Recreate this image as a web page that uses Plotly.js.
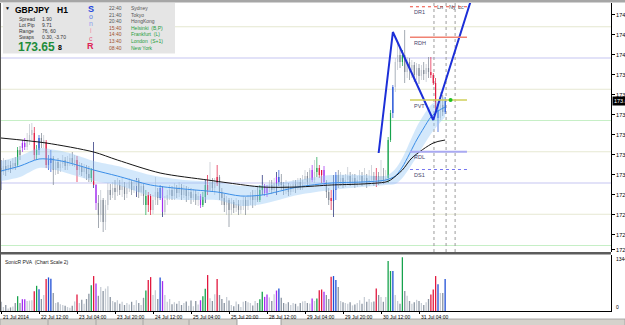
<!DOCTYPE html>
<html><head><meta charset="utf-8">
<script src="https://cdn.plot.ly/plotly-3.0.1.min.js"></script>
<style>html,body{margin:0;padding:0;background:#fff;}#chart{width:625px;height:325px;}</style>
</head><body><div id="chart"></div>
<script>
// ---------- DATA (GBPJPY H1) ----------
const timeTickIdx = [0,16,32,48,64,80,96,112,128,144,160,176];
const timeTickLabels = ['21 Jul 2014','22 Jul 12:00','23 Jul 04:00','23 Jul 20:00','24 Jul 12:00','25 Jul 04:00','25 Jul 20:00','28 Jul 12:00','29 Jul 04:00','29 Jul 20:00','30 Jul 12:00','31 Jul 04:00'];

const openP = [173.120,173.088,173.136,173.104,173.144,173.120,173.160,173.144,173.264,173.280,
173.320,173.288,173.344,173.384,173.400,173.224,173.264,173.360,173.320,173.328,
173.144,173.160,173.200,173.104,173.168,173.120,173.152,173.184,173.136,173.168,
173.200,173.160,173.184,173.104,173.136,173.088,173.120,173.072,173.040,173.104,
172.984,172.840,172.744,172.864,172.688,172.824,172.944,172.904,172.960,172.928,
172.984,172.944,172.976,172.912,172.960,173.008,172.944,172.976,173.024,172.928,
172.976,172.896,172.824,172.896,172.784,172.864,172.928,172.880,172.960,172.768,
172.864,172.904,172.944,172.896,172.960,172.920,172.968,172.904,172.944,172.896,
172.928,172.880,172.912,172.864,172.896,172.824,172.888,172.984,172.944,173.008,
172.960,173.000,173.048,172.928,172.880,172.824,172.864,172.784,172.848,172.800,
172.832,172.784,172.816,172.864,172.816,172.864,172.896,172.864,172.896,172.864,
172.944,172.976,172.920,172.960,172.984,172.944,173.000,173.048,173.008,172.984,
172.944,172.976,172.928,172.960,172.992,172.960,173.008,172.976,173.024,173.056,
173.008,173.104,173.024,173.088,173.120,173.064,173.104,173.008,172.928,172.880,
172.856,172.944,173.064,173.000,173.040,172.992,173.024,173.056,173.008,173.040,
172.992,173.024,173.056,173.008,173.040,173.000,173.024,173.056,173.024,173.056,
173.008,173.056,173.024,173.040,173.344,173.560,173.768,173.968,174.024,173.968,
174.024,173.888,173.968,173.904,173.944,173.864,173.920,173.856,173.904,173.872,
173.920,173.888,173.864,173.800,173.584,173.520,173.624,173.568];
const highP = [173.184,173.200,173.184,173.184,173.176,173.200,173.208,173.288,173.296,173.344,
173.360,173.400,173.472,173.480,173.448,173.304,173.384,173.400,173.384,173.344,
173.224,173.264,173.216,173.184,173.200,173.184,173.224,173.208,173.216,173.232,
173.248,173.224,173.216,173.168,173.160,173.152,173.144,173.136,173.120,173.328,
172.992,172.904,172.944,172.880,172.864,173.000,172.992,173.008,173.024,173.040,
173.024,173.040,173.008,173.000,173.040,173.024,173.024,173.040,173.040,173.008,
172.992,172.944,172.928,172.912,172.904,173.048,172.960,172.984,172.976,172.896,
172.944,172.984,172.976,173.000,172.984,173.008,172.992,172.984,172.976,172.968,
172.960,172.952,172.944,172.928,172.912,172.928,173.024,173.064,173.168,173.040,
173.040,173.144,173.064,172.960,172.912,172.896,172.880,172.880,172.864,172.880,
172.864,172.864,172.896,172.888,172.904,172.928,172.944,172.944,172.976,172.984,
173.064,172.992,172.984,173.024,173.024,173.040,173.088,173.104,173.072,173.008,
173.024,173.000,172.992,173.024,173.024,173.040,173.040,173.064,173.104,173.088,
173.120,173.144,173.184,173.208,173.144,173.104,173.136,173.024,172.960,172.944,
173.064,173.088,173.104,173.088,173.064,173.072,173.128,173.088,173.072,173.072,
173.056,173.104,173.088,173.120,173.072,173.104,173.144,173.088,173.120,173.088,
173.184,173.120,173.104,173.368,173.584,173.784,174.000,174.120,174.080,174.064,
174.224,174.008,174.000,173.984,173.968,173.960,173.952,173.944,173.968,173.952,
174.008,174.008,173.880,173.840,173.624,173.728,173.704,173.688];
const lowP = [172.944,173.064,173.056,173.088,173.080,173.104,173.104,173.128,173.184,173.248,
173.264,173.264,173.304,173.344,173.184,173.184,173.224,173.280,173.280,173.120,
173.104,173.088,172.984,173.064,173.072,173.088,173.120,173.104,173.104,173.136,
173.136,173.128,173.008,173.064,173.056,173.040,173.024,173.008,173.008,172.960,
172.784,172.640,172.688,172.608,172.624,172.784,172.864,172.880,172.864,172.896,
172.904,172.888,172.864,172.880,172.928,172.904,172.920,172.888,172.880,172.896,
172.824,172.744,172.768,172.744,172.752,172.824,172.824,172.864,172.728,172.744,
172.824,172.864,172.864,172.864,172.880,172.888,172.864,172.880,172.848,172.864,
172.832,172.848,172.824,172.816,172.800,172.808,172.840,172.904,172.928,172.928,
172.904,172.976,172.864,172.824,172.768,172.744,172.648,172.744,172.760,172.768,
172.744,172.752,172.784,172.744,172.784,172.824,172.800,172.816,172.848,172.848,
172.904,172.896,172.888,172.928,172.912,172.928,172.904,172.976,172.944,172.904,
172.912,172.896,172.904,172.928,172.920,172.944,172.944,172.944,172.984,172.976,
172.984,173.008,173.000,173.048,173.040,173.000,172.976,172.880,172.824,172.784,
172.728,172.864,172.960,172.976,172.960,172.968,172.984,172.976,172.984,172.960,
172.968,172.992,172.976,172.984,172.960,172.976,173.008,172.976,172.968,172.984,
172.992,172.992,173.000,173.000,173.328,173.520,173.728,173.904,173.920,173.936,
173.800,173.840,173.824,173.840,173.808,173.824,173.792,173.824,173.824,173.808,
173.840,173.840,173.784,173.568,173.408,173.504,173.536,173.552];
const closeP = [173.088,173.136,173.104,173.144,173.120,173.160,173.136,173.264,173.224,173.320,
173.288,173.344,173.384,173.424,173.224,173.264,173.360,173.320,173.344,173.144,
173.184,173.200,173.104,173.168,173.120,173.152,173.184,173.136,173.168,173.200,
173.160,173.184,173.104,173.136,173.088,173.120,173.072,173.040,173.104,172.984,
172.840,172.744,172.864,172.688,172.824,172.944,172.904,172.960,172.928,172.984,
172.944,172.976,172.912,172.960,173.008,172.944,172.976,173.024,172.928,172.976,
172.896,172.824,172.904,172.784,172.864,172.928,172.880,172.960,172.768,172.864,
172.904,172.944,172.896,172.960,172.920,172.968,172.904,172.944,172.896,172.928,
172.880,172.912,172.864,172.896,172.824,172.888,172.984,172.944,173.008,172.960,
173.000,173.048,172.928,172.880,172.824,172.864,172.784,172.848,172.800,172.832,
172.784,172.816,172.864,172.816,172.864,172.896,172.864,172.896,172.864,172.944,
172.976,172.920,172.960,172.984,172.944,173.000,173.048,173.008,172.984,172.944,
172.976,172.928,172.960,172.992,172.960,173.008,172.976,173.024,173.056,173.008,
173.104,173.024,173.088,173.120,173.064,173.104,173.008,172.928,172.864,172.856,
172.944,173.064,173.000,173.040,172.992,173.024,173.056,173.008,173.040,172.992,
173.024,173.056,173.008,173.040,173.000,173.024,173.056,173.024,173.056,173.008,
173.056,173.024,173.040,173.344,173.560,173.768,173.968,174.024,173.968,174.024,
173.888,173.968,173.904,173.944,173.864,173.920,173.856,173.904,173.872,173.920,
173.888,173.864,173.800,173.584,173.520,173.624,173.568,173.656];
const volume = [230,100,150,60,90,110,200,370,200,295,
295,250,260,270,495,630,546,300,400,798,
840,806,450,200,220,170,150,130,100,80,
130,240,412,200,280,180,300,430,647,874,
689,380,600,500,560,620,350,250,220,270,
180,230,150,200,160,230,150,270,200,150,
330,512,773,848,400,520,300,840,748,400,
230,300,170,220,180,250,150,200,240,130,
260,120,250,160,269,370,554,899,320,250,
420,798,400,300,200,350,260,150,120,240,
170,100,230,250,220,200,140,250,200,294,
479,353,412,340,250,420,512,563,330,200,
180,220,150,200,180,120,200,240,250,200,
190,311,250,311,521,538,479,400,300,857,
874,773,600,250,220,200,180,220,140,160,
200,270,180,350,230,300,220,240,563,400,
350,230,350,1252,1000,1000,400,250,180,1344,
500,380,250,180,220,280,250,200,150,220,
300,412,538,874,672,450,450,798];

// PVA classes
const greenBars  = [7,15,38,61,85,86,109,110,133,163,164,169];
const redBars    = [14,19,32,39,62,63,87,91,134,135,139,158,181,182,183];
const blueBars   = [16,20,21,67,117,140,141,165,184,187];
const purpleBars = [9,10,40,68,84,111,112,116,131,136];
const navyWicks  = [0,39,57,68,86,110,116,140];

// Sonic R dragon (EMA 34 of high / close / low)
const emaIdx = [0,8,16,23,29,39,49,63,77,91,101,110,125,139,152,162,166,169,175,178,181,184,187];
const emaMid = [173.096,173.136,173.192,173.184,173.160,173.104,173.056,172.984,172.952,172.928,172.896,172.904,172.968,173.000,173.008,173.024,173.056,173.128,173.344,173.440,173.528,173.576,173.608];
const emaUp  = [173.176,173.216,173.280,173.264,173.240,173.176,173.136,173.064,173.024,173.008,172.976,172.984,173.024,173.064,173.064,173.056,173.112,173.200,173.448,173.544,173.624,173.664,173.688];
const emaLo  = [173.016,173.048,173.120,173.104,173.072,173.016,172.984,172.896,172.864,172.864,172.816,172.832,172.904,172.944,172.968,172.984,172.992,173.040,173.208,173.304,173.392,173.464,173.528];
// slow moving average (black)
const maIdx = [0,19,39,49,67,87,96,110,125,139,152,162,164,169,173,182,187];
const maVal = [173.360,173.320,173.248,173.184,173.080,173.024,173.000,172.968,172.968,172.984,172.992,173.008,173.024,173.104,173.200,173.320,173.344];
// zigzag
const zigIdx = [159,165,182,199];
const zigVal = [173.240,174.208,173.504,174.530];

// daily levels
const levelNames  = ['DR1','RDH','PVT','RDL','DS1'];
const levelPrices = [174.410,174.166,173.664,173.250,173.108];
const levelFrom = 172.2, levelTo = 196.2;
// sessions
const sessionNames = ['Ln','Ny','Lc'];
const sessionIdx = [182.3,187.4,191.2];
// round-number levels
const roundLevels = [174.25,174.00,173.75,173.50,173.25,173.00,172.75,172.50];
// price scale
const tickPrices = [174.345,174.185,174.025,173.865,173.705,173.545,173.385,173.225,173.065,172.905,172.745,172.585,172.465];
const tickLabels = ['174.345','174.185','174.025','173.865','173.705','173.545','173.385','173.225','173.065','172.905','172.745','172.585','172.465'];
const bid = 173.658;
const volMax = 1344;

// info panel texts
const infoLabels = ['Spread','Lot Pip','Range','Swaps'];
const infoValues = ['1.90','9.71','76, 60','0.30, -3.70'];
const clockTimes = ['22:40','21:40','20:40','15:40','14:40','13:40','08:40'];
const clockCities = ['Sydney','Tokyo','HongKong','Helsinki  (B,P)','Frankfurt  (L)','London  (S+1)','New York'];
const clockActive = [false,false,false,true,true,true,true];

// ---------- DRAWING ----------
const FONT = 'Liberation Sans, Arial, sans-serif';
const PW = 611, PB = 311, PH = 308;
const px = v => v / PW;
const py = v => (PB - v) / PH;

const idx = closeP.map((_, i) => i);
const cls = idx.map(() => 'n');
greenBars.forEach(i => cls[i] = 'g');
redBars.forEach(i => cls[i] = 'r');
blueBars.forEach(i => cls[i] = 'b');
purpleBars.forEach(i => cls[i] = 'p');
const C = {g:'#16A34C', r:'#E2183F', b:'#1F4FD6', p:'#A22CF0'};
const up = i => closeP[i] >= openP[i];
const bodyCol = idx.map(i => cls[i] !== 'n' ? C[cls[i]] : (up(i) ? '#BEC4CC' : '#7E8793'));
const wickCol = idx.map(i => navyWicks.includes(i) ? '#1B2573' : bodyCol[i]);
const volCol  = idx.map(i => cls[i] !== 'n' ? C[cls[i]] : (up(i) ? '#C7CDD5' : '#8B95A2'));

const traces = [
  {type:'scatter', mode:'lines', x:emaIdx, y:emaLo, line:{width:0, shape:'spline', smoothing:0.8}, hoverinfo:'skip'},
  {type:'scatter', mode:'lines', x:emaIdx, y:emaUp, fill:'tonexty', fillcolor:'rgba(150,200,245,0.42)', line:{width:0, shape:'spline', smoothing:0.8}, hoverinfo:'skip'},
  {type:'scatter', mode:'lines', x:emaIdx, y:emaMid, line:{color:'#3A8EE8', width:1, shape:'spline', smoothing:0.8}},
  {type:'scatter', mode:'lines', x:maIdx, y:maVal, line:{color:'#161616', width:1, shape:'spline', smoothing:0.8}},
  {type:'bar', x:idx, base:lowP, y:idx.map(i => highP[i] - lowP[i]), width:0.3, marker:{color:wickCol, line:{width:0}}, yaxis:'y'},
  {type:'bar', x:idx, base:idx.map(i => Math.min(openP[i], closeP[i])), y:idx.map(i => Math.max(Math.abs(closeP[i] - openP[i]), 0.002)), width:0.5, marker:{color:bodyCol, line:{width:0}}, yaxis:'y'},
  {type:'bar', x:idx, y:volume, width:0.55, marker:{color:volCol, line:{width:0}}, yaxis:'y2'},
  {type:'scatter', mode:'lines', x:zigIdx, y:zigVal, line:{color:'#1C2FD8', width:2}},
];
const levelStyles = [
  {color:'#EE4A3A', width:1, dash:'dot'},
  {color:'#F08272', width:1.3},
  {color:'#CFCF5A', width:1.3},
  {color:'#A9A9F2', width:2},
  {color:'#7676F0', width:1, dash:'dot'}
];
levelPrices.forEach((p, k) => traces.push({type:'scatter', mode:'lines', x:[levelFrom, levelTo], y:[p, p], line:levelStyles[k]}));
traces.push({type:'scatter', mode:'markers', x:[189.3], y:[levelPrices[2]], marker:{color:'#22C022', size:4}});

const roundColors = ['#E4E7CF','#D8D8F6','#E6E8D2','#C6EFC6','#E6E8D2','#D8D8F6','#E6E8D2','#C6EFC6'];
const roundWidths = [1,1.6,1,1.2,1,1.6,1,1.2];
const shapes = [];
roundLevels.forEach((p, k) => shapes.push({type:'line', xref:'paper', yref:'y', x0:0, x1:1, y0:p, y1:p, line:{color:roundColors[k], width:roundWidths[k]}, layer:'below'}));
sessionIdx.forEach(s => shapes.push({type:'line', xref:'x', yref:'y domain', x0:s, x1:s, y0:0, y1:1, line:{color:'#9C9C9C', width:1, dash:'dot'}, layer:'below'}));
// frame pieces
shapes.push({type:'rect', xref:'paper', yref:'paper', x0:px(3), x1:px(175), y0:py(3), y1:py(53.5), fillcolor:'#E5E5E5', line:{width:0}, layer:'above'});
shapes.push({type:'rect', xref:'paper', yref:'paper', x0:0, x1:px(625), y0:py(0), y1:py(2.6), fillcolor:'#A6A6A6', line:{width:0}, layer:'above'});
shapes.push({type:'rect', xref:'paper', yref:'paper', x0:0, x1:1, y0:py(252), y1:py(254.6), fillcolor:'#5C5C5C', line:{width:0}, layer:'above'});
shapes.push({type:'line', xref:'paper', yref:'paper', x0:px(0.5), x1:px(0.5), y0:py(3), y1:py(311), line:{color:'#555', width:1}, layer:'above'});
shapes.push({type:'rect', xref:'paper', yref:'paper', x0:0, x1:px(625), y0:py(319), y1:py(325.5), fillcolor:'#D5D2CC', line:{color:'#9A9A9A', width:0.8}, layer:'above'});
shapes.push({type:'rect', xref:'paper', yref:'paper', x0:px(237), x1:px(281), y0:py(318.5), y1:py(325.5), fillcolor:'#FFFFFF', line:{color:'#8A8A8A', width:0.8}, layer:'above'});
[48,96,143,189].forEach(t => shapes.push({type:'line', xref:'paper', yref:'paper', x0:px(t), x1:px(t), y0:py(319.5), y1:py(325), line:{color:'#9A9A9A', width:0.8}, layer:'above'}));

function T(text, x, y, size, color, opts) {
  return Object.assign({text:text, xref:'paper', yref:'paper', x:px(x), y:py(y), xanchor:'left', yanchor:'middle', showarrow:false, font:{family:FONT, size:size, color:color}}, opts || {});
}
const ann = [];
ann.push(T('▼', 2.5, 7.5, 5, '#000'));
ann.push(T('<b>GBPJPY</b>', 12.5, 10, 8.5, '#000'));
ann.push(T('<b>H1</b>', 55, 10, 8.5, '#000'));
infoLabels.forEach((t, k) => {
  ann.push(T(t, 16.5, 18.5 + k * 6.3, 5, '#333'));
  ann.push(T(infoValues[k], 40, 18.5 + k * 6.3, 5, '#333'));
});
ann.push(T('<b>173.65</b>', 15.5, 47, 12, '#1E8C3A'));
ann.push(T('<b>8</b>', 56, 48, 7, '#000'));
const sonic = [['<b>S</b>',9,9,'#2244DD'],['o',16.5,7,'#5A7AE8'],['n',23.5,7,'#8C9CEE'],['i',30.5,7,'#F08CA6'],['c',38,7,'#E8607E'],['<b>R</b>',46,9,'#DD2255']];
sonic.forEach(s => ann.push(T(s[0], 90.5, s[1], s[2], s[3], {xanchor:'center'})));
clockTimes.forEach((t, k) => {
  const yy = 8 + k * 6.6;
  ann.push(T(t, 107, yy, 5, clockActive[k] ? '#A0522D' : '#555'));
  ann.push(T(clockCities[k], 129, yy, 5, clockActive[k] ? '#1E9E3C' : '#555'));
});
ann.push(T('SonicR PVA  (Chart Scale 2)', 3, 261.5, 5, '#222'));
ann.push(T('1344', 613.5, 259, 5, '#000'));
ann.push(T('0', 614, 307, 5, '#000'));
timeTickIdx.forEach((t, k) => ann.push({text:timeTickLabels[k], xref:'x', yref:'paper', x:t, y:py(316.5), xanchor:'left', yanchor:'middle', showarrow:false, font:{family:FONT, size:5, color:'#000'}}));
levelNames.forEach((n, k) => ann.push({text:n, xref:'x', yref:'y', x:levelFrom + 0.8, y:levelPrices[k], xanchor:'left', yanchor:'top', yshift:-0.5, showarrow:false, font:{family:FONT, size:5.5, color:'#45456A'}}));
sessionNames.forEach((n, k) => ann.push({text:n, xref:'x', yref:'paper', x:sessionIdx[k] + 0.3, y:py(7), xanchor:'left', yanchor:'middle', showarrow:false, font:{family:FONT, size:5.5, color:'#505060'}}));
ann.push({text:'173.658', xref:'paper', yref:'y', x:1, y:bid, xanchor:'left', yanchor:'middle', xshift:1, showarrow:false, bgcolor:'#000', borderpad:1, font:{family:FONT, size:5.5, color:'#fff'}});

const layout = {
  width:625, height:325, margin:{l:0, r:14, t:3, b:14, pad:0},
  paper_bgcolor:'#fff', plot_bgcolor:'#fff', showlegend:false, barmode:'overlay', hovermode:false,
  xaxis:{range:[-0.421, 256.84], anchor:'y2', showgrid:false, zeroline:false, showline:true, linecolor:'#000', linewidth:1,
         ticks:'outside', ticklen:2, tickcolor:'#000', tickvals:timeTickIdx, showticklabels:false, fixedrange:true},
  yaxis:{domain:[59/308, 1], range:[172.448, 174.44], side:'right', anchor:'x', showgrid:false, zeroline:false,
         showline:true, linecolor:'#000', linewidth:1, ticks:'outside', ticklen:3, tickcolor:'#000',
         tickvals:tickPrices, ticktext:tickLabels, tickfont:{family:FONT, size:5.5, color:'#000'}},
  yaxis2:{domain:[0, 56/308], range:[0, volMax * 1.042], side:'right', anchor:'x', showgrid:false, zeroline:false,
          showline:true, linecolor:'#000', linewidth:1, showticklabels:false, ticks:''},
  shapes:shapes, annotations:ann
};
Plotly.newPlot('chart', traces, layout, {displayModeBar:false, staticPlot:true});
</script>
</body></html>
